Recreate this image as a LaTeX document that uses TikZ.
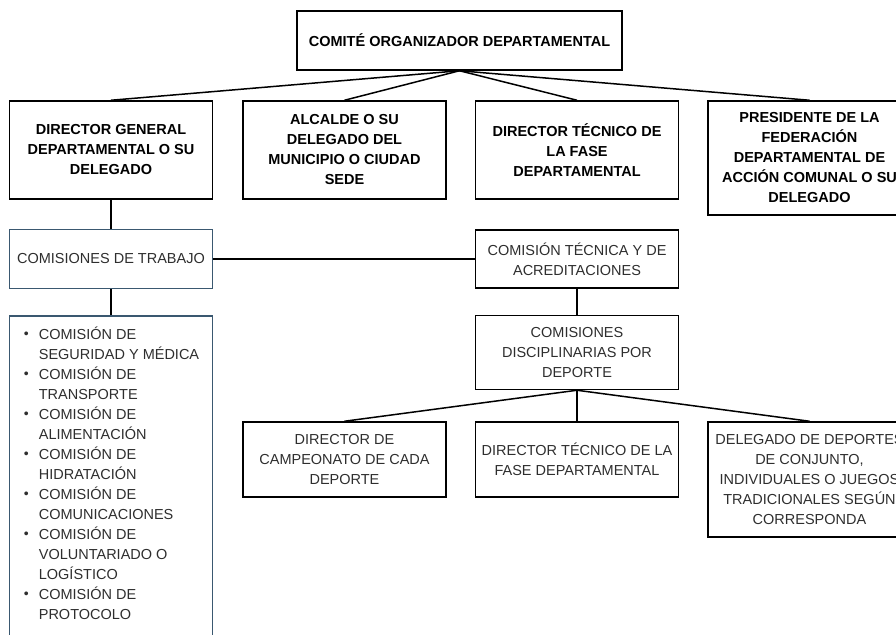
\documentclass[tikz,border=0pt]{standalone}
\usepackage{fontspec}
\setmainfont{Liberation Sans}
\usetikzlibrary{positioning}
\definecolor{slate}{HTML}{3A5870}
\definecolor{ink}{HTML}{2E2E2E}
\newcommand{\Dot}{\raisebox{0.5pt}{\fontsize{14}{14}\selectfont\textbullet}}

\begin{document}
\begin{tikzpicture}[x=1pt,y=-1pt]
        \tikzset{Box/.style={%
                shape=rectangle,%
                draw=black,%
                line width=1.5pt,%
                minimum width=203pt,%
                minimum height=98pt,%
                inner sep=2pt,%
                align=center,%
                text=ink,%
                font=\fontsize{14.5}{20}\selectfont,%
            }}
        \tikzset{BoldBox/.style={Box, text=black, font=\fontsize{14.5}{20}\selectfont\bfseries}}

        \useasboundingbox (0,0) rectangle (896,634);
        \clip (0,0) rectangle (896,634);

        \node[BoldBox, minimum width=325pt, minimum height=59pt] (top) at (459.5,40.5) {COMITÉ ORGANIZADOR DEPARTAMENTAL};
        \node[BoldBox] (dg) at (111,150) {DIRECTOR GENERAL\\DEPARTAMENTAL O SU\\DELEGADO};
        \node[BoldBox, right=29pt of dg] (alc) {ALCALDE O SU\\DELEGADO DEL\\MUNICIPIO O CIUDAD\\SEDE};
        \node[BoldBox, right=28pt of alc] (dtf) {DIRECTOR TÉCNICO DE\\LA FASE\\DEPARTAMENTAL};
        \node[BoldBox, minimum height=114pt, anchor=north west] (pres) at ([xshift=28pt]dtf.north east) {PRESIDENTE DE LA\\FEDERACIÓN\\DEPARTAMENTAL DE\\ACCIÓN COMUNAL O SU\\DELEGADO};

        \node[Box, draw=slate, minimum height=59pt, below=29pt of dg] (cdt) {COMISIONES DE TRABAJO};
        \node[Box, minimum height=58pt] (ct) at (cdt -| dtf) {COMISIÓN TÉCNICA Y DE\\ACREDITACIONES};
        \node[Box, draw=slate, minimum height=350pt, below=26pt of cdt] (lst) {};
        \node[anchor=north west, inner sep=0pt, text=ink, font=\fontsize{14.5}{20}\selectfont] (items) at ([xshift=15pt,yshift=-10pt]lst.north west) {%
            \begin{tabular}{@{}c@{\hspace{10pt}}l@{}}
                \Dot & COMISIÓN DE\\
                & SEGURIDAD Y MÉDICA\\
                \Dot & COMISIÓN DE\\
                & TRANSPORTE\\
                \Dot & COMISIÓN DE\\
                & ALIMENTACIÓN\\
                \Dot & COMISIÓN DE\\
                & HIDRATACIÓN\\
                \Dot & COMISIÓN DE\\
                & COMUNICACIONES\\
                \Dot & COMISIÓN DE\\
                & VOLUNTARIADO O\\
                & LOGÍSTICO\\
                \Dot & COMISIÓN DE\\
                & PROTOCOLO
            \end{tabular}};

        \node[Box, minimum height=74pt, below=26pt of ct] (cd) {COMISIONES\\DISCIPLINARIAS POR\\DEPORTE};
        \node[Box, minimum height=75pt, below=31pt of cd] (dtf2) {DIRECTOR TÉCNICO DE LA\\FASE DEPARTAMENTAL};
        \node[Box, minimum height=75pt, left=28pt of dtf2] (dcc) {DIRECTOR DE\\CAMPEONATO DE CADA\\DEPORTE};
        \node[Box, minimum height=115pt, anchor=north west] (del) at ([xshift=28pt]dtf2.north east) {DELEGADO DE DEPORTES\\DE CONJUNTO,\\INDIVIDUALES O JUEGOS\\TRADICIONALES SEGÚN\\CORRESPONDA};

        \path (top.south) edge[-,line width=1.5pt] (dg.north);
        \path (top.south) edge[-,line width=1.5pt] (alc.north);
        \path (top.south) edge[-,line width=1.5pt] (dtf.north);
        \path (top.south) edge[-,line width=1.5pt] (pres.north);
        \path (dg) edge[-,line width=1.5pt] (cdt);
        \path (cdt) edge[-,line width=1.5pt] (lst);
        \path (cdt) edge[-,line width=1.5pt] (ct);
        \path (ct) edge[-,line width=1.5pt] (cd);
        \path (cd.south) edge[-,line width=1.5pt] (dcc.north);
        \path (cd.south) edge[-,line width=1.5pt] (dtf2.north);
        \path (cd.south) edge[-,line width=1.5pt] (del.north);
\end{tikzpicture}
\end{document}
